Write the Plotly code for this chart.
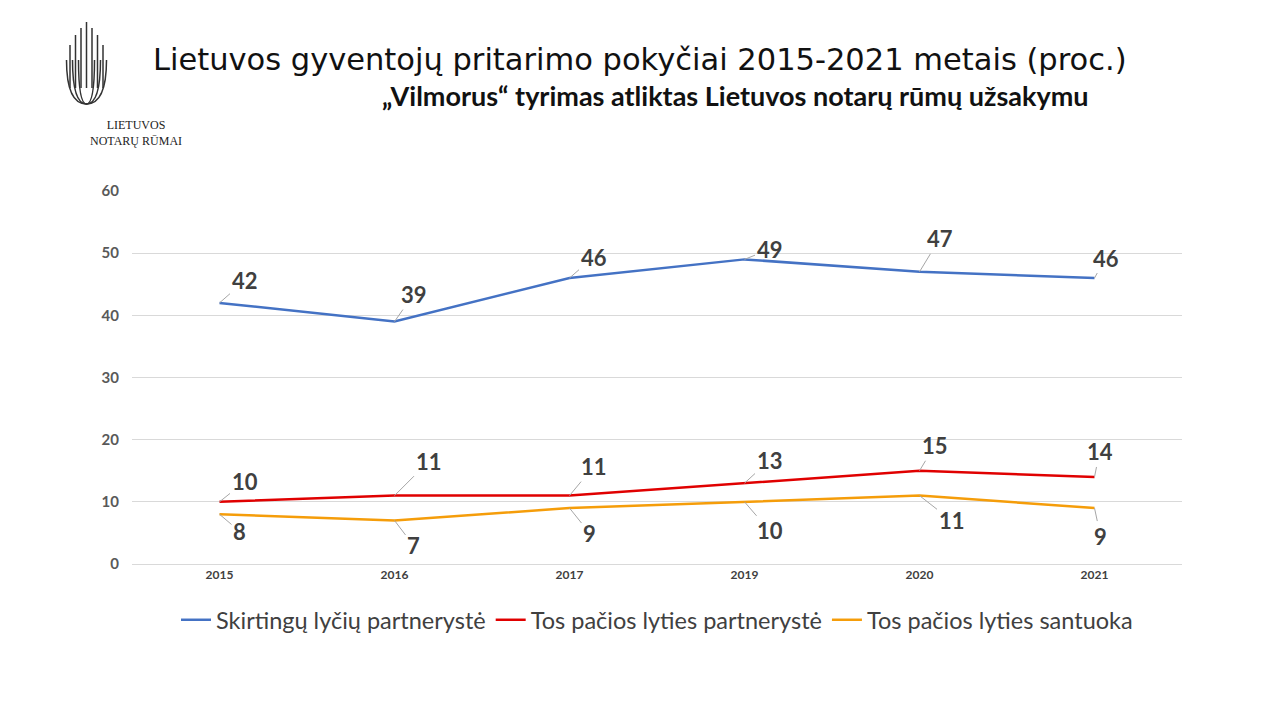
import plotly.graph_objects as go

years = ["2015", "2016", "2017", "2019", "2020", "2021"]
skirtingu = [42, 39, 46, 49, 47, 46]
tos_partneryste = [10, 11, 11, 13, 15, 14]
tos_santuoka = [8, 7, 9, 10, 11, 9]

series = [
    ("Skirtingų lyčių partnerystė", skirtingu, "#4472c4",
     [(25, -22), (19, -27), (24, -21), (25, -10), (20, -33), (11, -20)]),
    ("Tos pačios lyties partnerystė", tos_partneryste, "#e00000",
     [(25, -20), (34, -34), (24, -29), (25, -23), (15, -25), (5, -25)]),
    ("Tos pačios lyties santuoka", tos_santuoka, "#f59d0a",
     [(20, 17), (19, 25), (20, 25), (25, 29), (32, 25), (6, 28)]),
]

OFF = 8
L, R, T, B = 132 - OFF, 1182 - OFF, 191 - OFF, 564 - OFF


def px(x):
    return (x - OFF - L) / (R - L)


def py(y):
    return (B - (y - OFF)) / (B - T)


fig = go.Figure()
annotations = []
for name, vals, color, offs in series:
    fig.add_trace(go.Scatter(x=list(range(len(years))), y=vals, mode="lines", name=name,
                             line=dict(color=color, width=2.5)))
    for i, (v, (ax, ay)) in enumerate(zip(vals, offs)):
        annotations.append(dict(
            xref="x", yref="y", x=i, y=v, text=f"<b>{v}</b>", ax=ax, ay=ay,
            showarrow=True, arrowhead=0, arrowwidth=1, arrowcolor="#a6a6a6",
            font=dict(size=22, color="#404040", family="Lato"),
        ))

annotations += [
    dict(xref="paper", yref="paper", x=px(640), y=py(40), showarrow=False,
         text="Lietuvos gyventojų pritarimo pokyčiai 2015-2021 metais (proc.)",
         font=dict(size=30.5, color="#111111", family="DejaVu Sans")),
    dict(xref="paper", yref="paper", x=px(735), y=py(77), showarrow=False,
         text="<b>„Vilmorus“ tyrimas atliktas Lietuvos notarų rūmų užsakymu</b>",
         font=dict(size=27, color="#111111", family="Lato")),
    dict(xref="paper", yref="paper", x=px(88), y=py(116), showarrow=False,
         text="LIETUVOS<br>NOTARŲ RŪMAI", align="center",
         font=dict(size=12, color="#222222", family="Liberation Serif")),
]

shapes = []
for i, top in enumerate([45, 35, 28, 22, 28, 35, 45]):
    x = 70 + i * 5.5
    shapes.append(dict(type="line", xref="paper", yref="paper", x0=px(x), x1=px(x),
                       y0=py(88), y1=py(top), line=dict(color="#333333", width=1.5)))
for w in [8, 14, 20]:
    shapes.append(dict(type="path", xref="paper", yref="paper",
                       path=f"M {px(86.5 - w)} {py(60)} Q {px(86.5 - w)} {py(104)} {px(86.5)} {py(104)} "
                            f"Q {px(86.5 + w)} {py(104)} {px(86.5 + w)} {py(60)}",
                       line=dict(color="#333333", width=1.5)))

fig.update_layout(
    width=1280, height=720,
    paper_bgcolor="white", plot_bgcolor="white",
    margin=dict(l=L, r=1280 - R, t=T, b=720 - B, autoexpand=False),
    annotations=annotations, shapes=shapes,
    xaxis=dict(range=[-0.5, 5.5], showgrid=False, zeroline=False,
               tickvals=list(range(len(years))), ticktext=years,
               showline=True, linecolor="#d9d9d9", ticks="", automargin=False,
               tickfont=dict(size=12, color="#404040", family="Lato", weight="bold")),
    yaxis=dict(range=[0, 60], dtick=10, gridcolor="#d9d9d9", zeroline=False, automargin=False,
               tickfont=dict(size=15, color="#595959", family="Lato", weight="bold"),
               ticklabelstandoff=12),
    legend=dict(orientation="h", x=0.5, xanchor="center", y=py(620), yanchor="middle",
                font=dict(size=23.5, color="#404040", family="Lato")),
    showlegend=True,
)

fig.write_html("out.html")
